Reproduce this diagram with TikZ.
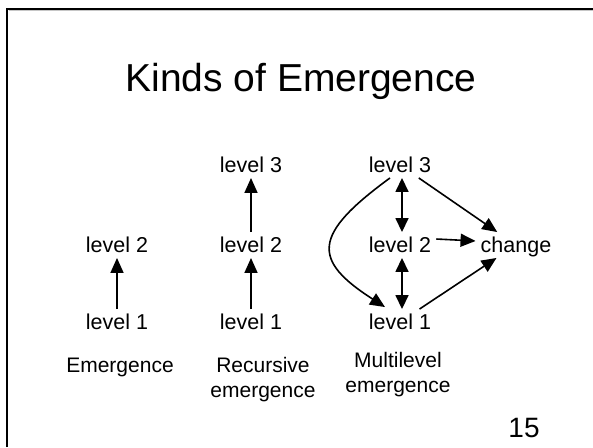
\documentclass[tikz,border=0pt]{standalone}
\usepackage{fontspec}
\setmainfont{Liberation Sans}
\usetikzlibrary{arrows.meta}
\begin{document}
\begin{tikzpicture}[x=1pt,y=-1pt,
  lvl/.style={font=\fontsize{21.5}{25}\selectfont, inner sep=5pt, text height=15.5pt, text depth=0pt},
  capbox/.style={font=\fontsize{21}{25}\selectfont, inner sep=0pt, align=center, anchor=north},
  arr/.style={line width=1.6pt, -{Triangle[length=15pt,width=13pt]}},
  darr/.style={line width=1.6pt, {Triangle[length=14pt,width=13pt]}-{Triangle[length=14pt,width=13pt]}}]
\useasboundingbox (0,0) rectangle (593,447);
% frame
\draw[gray!45, line width=1pt] (8.5,10.9) -- (593,10.9);
\draw[line width=2.5pt] (7.2,447) -- (7.2,9.2) -- (593,9.2);
% title and page number
\node[font=\fontsize{39}{45}\selectfont, anchor=base, inner sep=0pt] (title) at (301,91) {Kinds of Emergence};
\node[font=\fontsize{28}{32}\selectfont, anchor=base, inner sep=0pt] (pnum) at (524,437) {15};
% column 1
\node[lvl] (e1) at (117,322) {level 1};
\node[lvl] (e2) at (117,245) {level 2};
\draw[arr] (e1) -- (e2);
\node[capbox] (ce) at (120,357.5) {Emergence};
% column 2
\node[lvl] (r1) at (251,322) {level 1};
\node[lvl] (r2) at (251,245) {level 2};
\node[lvl] (r3) at (251,165) {level 3};
\draw[arr] (r1) -- (r2);
\draw[arr] (r2) -- (r3);
\node[capbox] (cr) at (263,357.5) {Recursive\\emergence};
% column 3
\node[lvl] (m1) at (400,322) {level 1};
\node[lvl] (m2) at (400,245) {level 2};
\node[lvl] (m3) at (400,165) {level 3};
\node[lvl] (ch) at (516,245) {change};
\draw[darr] ([xshift=2pt]m3.south) -- ([xshift=2pt]m2.north);
\draw[darr] ([xshift=2pt]m2.south) -- ([xshift=2pt]m1.north);
\draw[arr] ([yshift=6pt]m2.east) -- ([yshift=4pt]ch.west);
\draw[arr] (m3) -- (ch);
\draw[arr] (m1) -- (ch);
\draw[arr] ([xshift=-10pt]m3.south) .. controls (312,235) and (312,260) .. ([xshift=-15pt,yshift=2pt]m1.north);
\node[capbox] (cm) at (398,352.5) {Multilevel\\emergence};
\end{tikzpicture}
\end{document}
